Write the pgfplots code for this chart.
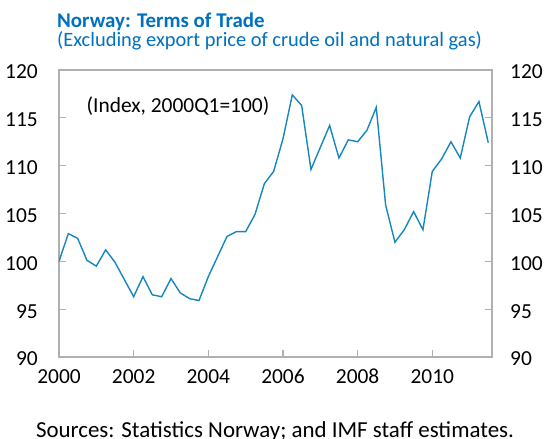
\documentclass[border=0pt]{standalone}
\usepackage{pgfplots}
\pgfplotsset{compat=1.18}
\usepackage{fontspec}
\setmainfont{Carlito}
\definecolor{titleblue}{RGB}{0,112,192}
\definecolor{lineblue}{RGB}{22,134,190}
\definecolor{axgray}{RGB}{176,176,176}
\begin{document}
\begin{tikzpicture}
\useasboundingbox (-59bp,-82bp) rectangle (488bp,357bp);
\begin{axis}[
  at={(0,0)}, anchor=south west,
  scale only axis, width=433bp, height=287bp,
  xmin=2000, xmax=2011.6, ymin=90, ymax=120,
  xtick={2000,2002,2004,2006,2008,2010},
  ytick={90,95,100,105,110,115,120},
  xticklabel style={/pgf/number format/1000 sep={}, font=\fontsize{21.5}{21.5}\selectfont, anchor=base, inner sep=0pt, yshift=-26bp},
  yticklabel style={font=\fontsize{21.5}{21.5}\selectfont, anchor=east, inner sep=0pt, xshift=-21bp, yshift=-2bp},
  /pgf/number format/assume math mode=true,
  axis line style={draw=axgray, line width=1.5bp},
  tick style={draw=axgray, line width=1.2bp},
  major tick length=7bp,
  tick align=inside,
  xtick pos=bottom, ytick pos=both,
  yticklabel pos=left,
]
\addplot[lineblue, line width=1.4bp] table {
x y
2000.00 100.0
2000.25 102.9
2000.50 102.4
2000.75 100.1
2001.00 99.5
2001.25 101.2
2001.50 99.9
2001.75 98.1
2002.00 96.3
2002.25 98.4
2002.50 96.5
2002.75 96.3
2003.00 98.2
2003.25 96.7
2003.50 96.1
2003.75 95.9
2004.00 98.4
2004.25 100.5
2004.50 102.6
2004.75 103.1
2005.00 103.1
2005.25 104.9
2005.50 108.1
2005.75 109.4
2006.00 112.8
2006.25 117.4
2006.50 116.3
2006.75 109.6
2007.00 111.9
2007.25 114.2
2007.50 110.8
2007.75 112.7
2008.00 112.5
2008.25 113.7
2008.50 116.1
2008.75 105.9
2009.00 102.0
2009.25 103.3
2009.50 105.2
2009.75 103.3
2010.00 109.4
2010.25 110.7
2010.50 112.5
2010.75 110.8
2011.00 115.1
2011.25 116.7
2011.50 112.4
};
\end{axis}
\begin{axis}[
  at={(0,0)}, anchor=south west,
  scale only axis, width=433bp, height=287bp,
  xmin=2000, xmax=2011.6, ymin=90, ymax=120,
  xtick=\empty,
  ytick={90,95,100,105,110,115,120},
  yticklabel pos=right,
  yticklabel style={font=\fontsize{21.5}{21.5}\selectfont, anchor=west, inner sep=0pt, xshift=18bp, yshift=-2bp},
  /pgf/number format/assume math mode=true,
  axis line style={draw=none},
  major tick length=0pt,
]
\end{axis}
\node[anchor=base west, text=titleblue, font=\fontsize{21}{21}\selectfont\bfseries, inner sep=0pt] at (-2bp,329bp) {Norway: Terms of Trade};
\node[anchor=base west, text=titleblue, font=\fontsize{20.5}{20.5}\selectfont, inner sep=0pt] at (-2bp,310bp) {(Excluding export price of crude oil and natural gas)};
\node[anchor=base, font=\fontsize{21.5}{21.5}\selectfont, inner sep=0pt] at (119bp,244bp) {(Index, 2000Q1=100)};
\node[anchor=base, font=\fontsize{23}{23}\selectfont, inner sep=0pt] at (216bp,-80bp) {Sources: Statistics Norway; and IMF staff estimates.};
\end{tikzpicture}
\end{document}
